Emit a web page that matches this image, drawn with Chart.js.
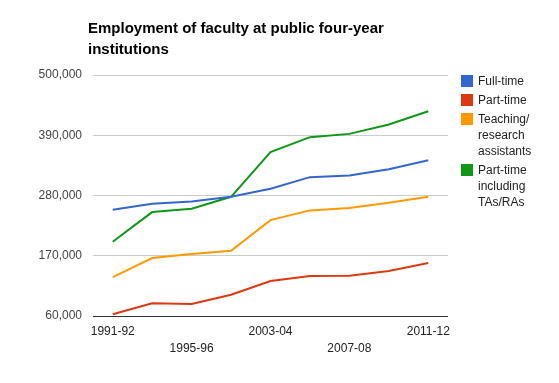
<!DOCTYPE html>
<html>
<head>
<meta charset="utf-8">
<script src="https://cdn.jsdelivr.net/npm/chart.js@4"></script>
<style>
  body { margin: 0; background: #fff; }
  #wrap { position: relative; width: 559px; height: 383px; }
  #title { position: absolute; left: 88px; top: 17px; font: bold 15px "Liberation Sans", Arial, sans-serif; line-height: 21px; color: #000; }
  #legend { position: absolute; left: 461px; top: 73px; font: 12px "Liberation Sans", Arial, sans-serif; color: #222; }
  .item { position: relative; padding-left: 17px; line-height: 16px; margin-bottom: 3px; white-space: pre-line; }
  .swatch { position: absolute; left: 0; top: 2px; width: 12px; height: 12px; }
</style>
</head>
<body>
<div id="wrap">
  <canvas id="main-chart" width="559" height="383"></canvas>
  <div id="title">Employment of faculty at public four-year<br>institutions</div>
  <div id="legend"></div>
</div>
<script>
// data
const years = ["1991-92", "1993-94", "1995-96", "1999-00", "2003-04", "2005-06", "2007-08", "2009-10", "2011-12"]
const fullTime = [253900, 264800, 269200, 277600, 292200, 313500, 316600, 328100, 344500]
const partTime = [63100, 83200, 81900, 98900, 123800, 133000, 133500, 142100, 156700]
const teachingAssistants = [131100, 165800, 173100, 179100, 235100, 252800, 257000, 266700, 277600]
const partTimeInclTAs = [195500, 249700, 255700, 277600, 359100, 386500, 392500, 409700, 433900]
const yTicks = [60000, 170000, 280000, 390000, 500000]

const seriesNames = ["Full-time", "Part-time", "Teaching/\nresearch\nassistants", "Part-time\nincluding\nTAs/RAs"]
const seriesColors = ["#3366cc", "#dc3912", "#ff9900", "#109618"]
const seriesData = [fullTime, partTime, teachingAssistants, partTimeInclTAs]

// legend
const legendEl = document.getElementById("legend")
seriesNames.forEach((name, i) => {
    const item = document.createElement("div")
    item.className = "item"
    item.innerHTML = `<span class="swatch" style="background:${seriesColors[i]}"></span>`
    item.appendChild(document.createTextNode(name))
    legendEl.appendChild(item)
})

const ctx = document.getElementById("main-chart").getContext("2d")
const font = { family: '"Liberation Sans", Arial, sans-serif', size: 12 }

new Chart(ctx, {
    type: 'line',
    data: {
        labels: years,
        datasets: seriesData.map((d, i) => ({
            label: seriesNames[i].replace(/\n/g, ' '),
            data: d,
            borderColor: seriesColors[i],
            backgroundColor: seriesColors[i],
            borderWidth: 2,
            pointRadius: 0,
            tension: 0,
            fill: false
        }))
    },
    options: {
        responsive: false,
        animation: false,
        layout: { padding: { top: 75, right: 111, left: 0, bottom: 0 } },
        plugins: {
            legend: { display: false },
            title: { display: false },
            tooltip: { enabled: false }
        },
        scales: {
            x: {
                offset: true,
                grid: { display: false, drawTicks: false },
                border: { display: false },
                afterFit: scale => { scale.height = 67 },
                ticks: {
                    autoSkip: false,
                    maxRotation: 0,
                    padding: 8,
                    color: '#222',
                    font: { ...font, lineHeight: 1.35 },
                    callback: function (val, i) {
                        if (i % 4 === 0) return years[i]
                        if (i % 4 === 2) return ['', years[i]]
                        return ''
                    }
                }
            },
            y: {
                min: 60000,
                max: 500000,
                afterFit: scale => { scale.width = 93 },
                afterBuildTicks: scale => { scale.ticks = yTicks.map(v => ({ value: v })) },
                grid: {
                    drawTicks: false,
                    color: c => c.tick && c.tick.value === 60000 ? '#333' : '#cccccc'
                },
                border: { display: false },
                ticks: {
                    padding: 11,
                    color: '#444',
                    font: font,
                    callback: v => v.toLocaleString('en-US')
                }
            }
        }
    }
})
</script>
</body>
</html>
